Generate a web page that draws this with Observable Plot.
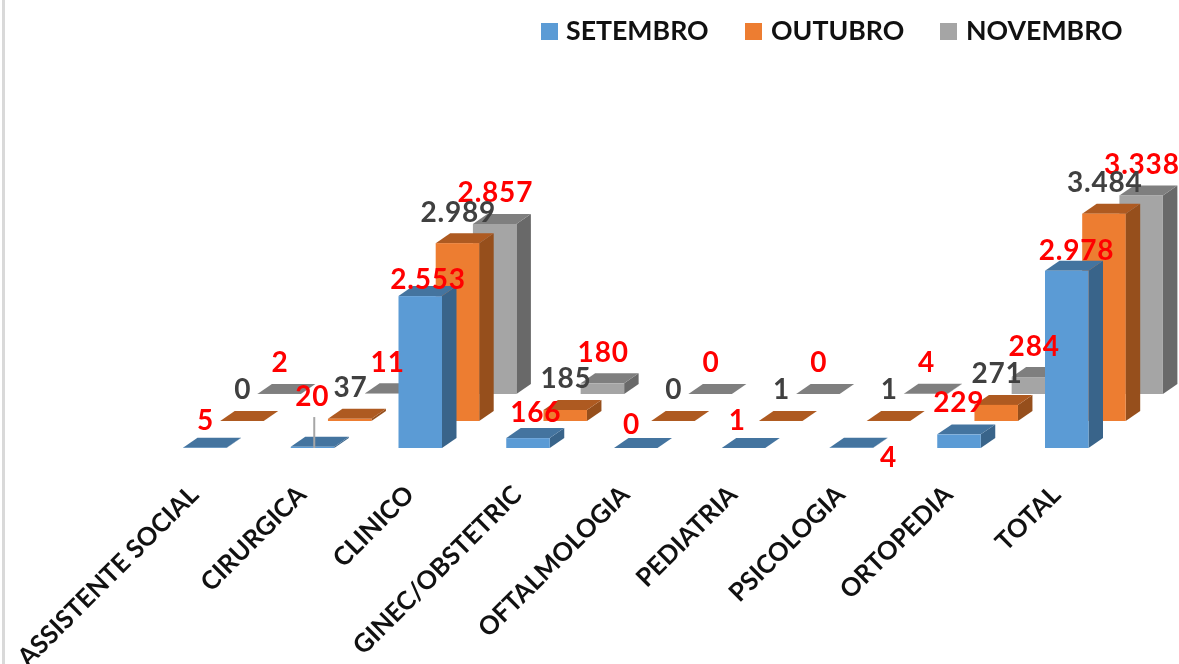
<!DOCTYPE html>
<html lang="pt">
<head>
<meta charset="utf-8">
<script src="https://cdn.jsdelivr.net/npm/d3@7"></script>
<script src="https://cdn.jsdelivr.net/npm/@observablehq/plot@0.6"></script>
<style>
  html, body { margin: 0; padding: 0; background: #fff; overflow: hidden; }
  body { width: 1179px; height: 664px; position: relative; font-family: Lato, sans-serif; }
  #frame { position: absolute; left: 2px; top: 0; width: 3px; height: 664px; background: #d9d9d9; }
  #legend { position: relative; height: 60px; filter: blur(0.4px); }
  #legend i { position: absolute; top: 23px; width: 17px; height: 17px; }
  #legend span { position: absolute; top: 13px; font: 700 26.7px/34px Lato, sans-serif; color: #111; white-space: nowrap; }
  #chart { filter: blur(0.4px); }
  #chart svg { display: block; overflow: visible; }
  #chart text.datalabel, #chart .datalabel text { letter-spacing: 0.8px; }
</style>
</head>
<body>
<div id="frame"></div>
<div id="legend"></div>
<div id="chart"></div>
<script>
// ---- data ----
const categories = ["ASSISTENTE SOCIAL", "CIRURGICA", "CLINICO", "GINEC/OBSTETRIC", "OFTALMOLOGIA", "PEDIATRIA", "PSICOLOGIA", "ORTOPEDIA", "TOTAL"];
const seriesNames = ["SETEMBRO", "OUTUBRO", "NOVEMBRO"];
const setembro = [5, 20, 2553, 166, 0, 1, 4, 229, 2978];
const outubro  = [0, 37, 2989, 185, 0, 1, 1, 271, 3484];
const novembro = [2, 11, 2857, 180, 0, 0, 4, 284, 3338];
const seriesValues = [setembro, outubro, novembro];

// ---- styles and layout ----
const frontColors = ["#5B9BD5", "#ED7D31", "#A5A5A5"];
const topColors   = ["#44749F", "#AE5A21", "#7F7F7F"];
const sideColors  = ["#39648A", "#964F1C", "#696969"];
const labelColors = ["#FF0000", "#404040", "#FF0000"];
const legendSwatchX = [541, 745, 940];
const legendTextX   = [566, 771, 966];

const catStep = 107.75, pxPerUnit = 0.0595;
const barWidth = 43.5 / catStep;      // front-face width, in category units
const seriesDX = 37.2 / catStep;      // each series sits further back and to the right
const seriesDY = 27 / pxPerUnit;
const depthX = 14.5 / catStep;        // depth of the 3-D extrusion
const depthY = 10 / pxPerUnit;

// label nudges in pixels (relative to the centre of the bar's back top edge)
const blueNudgeX = [-7, -8, 0, 0, -12, -14, 29.5, -8, 2];
const blueNudgeY = [-17, -40, -7, -16, -13, -17, 20, -22, -10];
const backNudgeX = -7, backNudgeY = -21;

// ---- legend ----
const legend = document.getElementById("legend");
seriesNames.forEach((name, s) => {
  const sw = document.createElement("i");
  sw.style.left = legendSwatchX[s] + "px";
  sw.style.background = frontColors[s];
  legend.appendChild(sw);
  const tx = document.createElement("span");
  tx.style.left = legendTextX[s] + "px";
  tx.textContent = name;
  legend.appendChild(tx);
});

// ---- marks ----
const bars = s => seriesValues[s].map((v, i) => ({
  v, i,
  x0: i + s * seriesDX,
  x1: i + s * seriesDX + barWidth,
  base: s * seriesDY
}));

const marks = [];
for (const s of [2, 1, 0]) {
  const b = bars(s);
  const side = b.flatMap(d => [
    {z: d.i, x: d.x1, y1: d.base, y2: d.base + d.v},
    {z: d.i, x: d.x1 + depthX, y1: d.base + depthY, y2: d.base + d.v + depthY}
  ]);
  const top = b.flatMap(d => [
    {z: d.i, y: d.base + d.v, x1: d.x0, x2: d.x1},
    {z: d.i, y: d.base + d.v + depthY, x1: d.x0 + depthX, x2: d.x1 + depthX}
  ]);
  marks.push(
    Plot.areaY(side, {x: "x", y1: "y1", y2: "y2", z: "z", fill: sideColors[s]}),
    Plot.areaX(top, {y: "y", x1: "x1", x2: "x2", z: "z", fill: topColors[s]}),
    Plot.rect(b, {x1: "x0", x2: "x1", y1: "base", y2: d => d.base + d.v, fill: frontColors[s]})
  );
}

// leader line from the CIRURGICA blue bar up to its label
marks.push(Plot.ruleX([1 + (barWidth + depthX) / 2 - 6 / catStep], {
  y1: 0, y2: setembro[1] + 500, stroke: "#A6A6A6", strokeWidth: 2
}));

// data labels
const fmt = v => v >= 1000 ? d3.format(",")(v).replace(",", ".") : String(v);
for (const s of [2, 1, 0]) {
  const nx = i => s === 0 ? blueNudgeX[i] : backNudgeX;
  const ny = i => s === 0 ? blueNudgeY[i] : backNudgeY;
  marks.push(Plot.text(bars(s), {
    x: d => d.x0 + barWidth / 2 + depthX / 2 + nx(d.i) / catStep,
    y: d => d.base + d.v + depthY - ny(d.i) / pxPerUnit,
    text: d => fmt(d.v),
    fill: labelColors[s],
    fontSize: 28,
    fontWeight: 700,
    fontFamily: "Lato, sans-serif",
    textAnchor: "middle",
    lineAnchor: "middle",
    className: "datalabel"
  }));
}

// category axis
const tickOffset = 0.10;
marks.push(Plot.axisX(categories.map((c, i) => i + tickOffset), {
  anchor: "bottom",
  tickSize: 0,
  tickRotate: -45,
  tickPadding: 0,
  tickFormat: d => categories[Math.round(d - tickOffset)],
  label: null,
  fontSize: 25.5,
  fontWeight: 700,
  fontFamily: "Lato, sans-serif",
  fill: "#111"
}));

const plot = Plot.plot({
  width: 1179,
  height: 604,
  marginTop: 0, marginRight: 0, marginLeft: 0, marginBottom: 174,
  style: {background: "transparent", overflow: "visible"},
  x: {type: "linear", domain: [0, categories.length], range: [183, 183 + catStep * categories.length]},
  y: {type: "linear", domain: [0, 4000], range: [388, 388 - 4000 * pxPerUnit], axis: null},
  marks
});
document.getElementById("chart").appendChild(plot);
</script>
</body>
</html>
